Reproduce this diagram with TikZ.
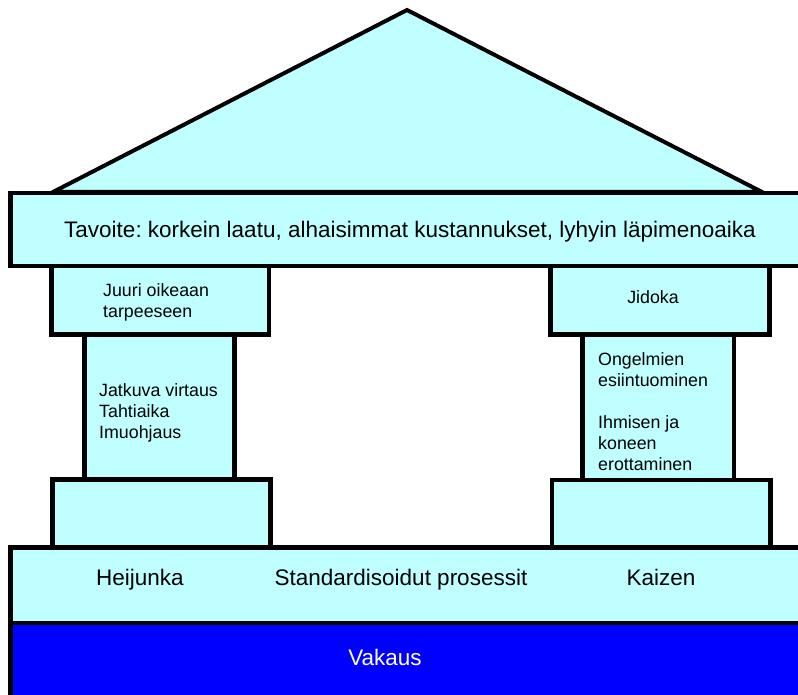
\documentclass[tikz,border=0pt]{standalone}
\usepackage{fontspec}
\setmainfont{Liberation Sans}
\frenchspacing
\definecolor{paleCyan}{RGB}{192,255,255}
\definecolor{deepBlue}{RGB}{0,0,255}

\begin{document}
\begin{tikzpicture}[x = 1pt, y = -1pt,
    block/.style = {fill = paleCyan, draw = black, line width = 4.5pt},
    pillartext/.style = {font = \fontsize{17.8}{21}\selectfont, align = left, anchor = base west, inner sep = 0},
    bigtext/.style = {font = \fontsize{22.5}{27}\selectfont, anchor = base, inner sep = 0}]
    \useasboundingbox (0, 0) rectangle (798, 695);
    \clip (0, 0) rectangle (798, 695);

    % roof and beam
    \filldraw[block, line width = 4pt] (53, 192) -- (407, 10) -- (762, 192) -- cycle;
    \filldraw[block] (10.5, 193) rectangle (810, 266);

    % left pillar
    \filldraw[block] (84.5, 334.5) rectangle (234.5, 479.5);
    \filldraw[block] (51.5, 266) rectangle (269, 334.5);
    \filldraw[block] (52.5, 479.5) rectangle (270.5, 547.5);

    % right pillar
    \filldraw[block] (582.5, 334.5) rectangle (734, 480);
    \filldraw[block] (550.5, 266) rectangle (769.5, 334.5);
    \filldraw[block] (552, 480) rectangle (770.5, 547.5);

    % foundation
    \filldraw[block] (10.5, 547.5) rectangle (810, 623);
    \filldraw[block, fill = deepBlue] (10.5, 623) rectangle (810, 710);

    % texts (base = last line)
    \node[bigtext] (goal) at (410, 237) {Tavoite: korkein laatu, alhaisimmat kustannukset, lyhyin läpimenoaika};
    \node[pillartext] (jit) at (103, 317) {Juuri oikeaan\\tarpeeseen};
    \node[pillartext] (flow) at (99, 438) {Jatkuva virtaus\\Tahtiaika\\Imuohjaus};
    \node[pillartext, anchor = base] (jidoka) at (653, 303) {Jidoka};
    \node[pillartext] (andon) at (598, 470) {Ongelmien\\esiintuominen\\[21pt]Ihmisen ja\\koneen\\erottaminen};

    \node[bigtext] (heijunka) at (140, 585) {Heijunka};
    \node[bigtext] (standard) at (401, 585) {Standardisoidut prosessit};
    \node[bigtext] (kaizen) at (661, 585) {Kaizen};
    \node[bigtext, text = white] (vakaus) at (385, 665) {Vakaus};
\end{tikzpicture}
\end{document}
